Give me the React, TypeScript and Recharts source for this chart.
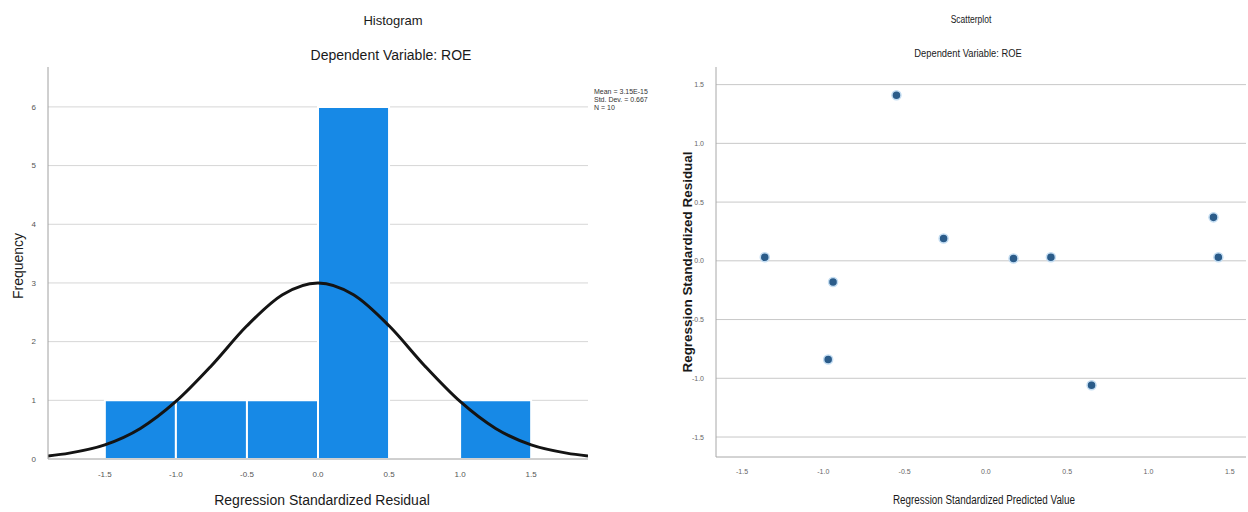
import React from 'react';
import {
  ComposedChart, ScatterChart, Scatter, Line, XAxis, YAxis, ZAxis, CartesianGrid, ReferenceArea,
} from 'recharts';

// histogram bins (residuals)
const BIN_START = [-1.5, -1.0, -0.5, 0.0, 0.5, 1.0];
const BIN_END = [-1.0, -0.5, 0.0, 0.5, 1.0, 1.5];
const BIN_COUNT = [1, 1, 1, 6, 0, 1];

// normal curve
const CURVE_X = [-1.9, -1.75, -1.5, -1.25, -1.0, -0.75, -0.5, -0.25, 0, 0.25, 0.5, 0.75, 1.0, 1.25, 1.5, 1.75, 1.9];
const CURVE_Y = [0.05, 0.1, 0.24, 0.52, 0.98, 1.59, 2.27, 2.8, 3.0, 2.8, 2.27, 1.59, 0.98, 0.52, 0.24, 0.1, 0.05];

const HIST_X_TICKS = [-1.5, -1.0, -0.5, 0.0, 0.5, 1.0, 1.5];
const HIST_Y_TICKS = [0, 1, 2, 3, 4, 5, 6];
const HIST_Y_DOMAIN = [0, 6.68];

// scatterplot: standardized predicted vs standardized residual
const PREDICTED = [-1.36, -0.94, -0.97, -0.55, -0.26, 0.17, 0.4, 0.65, 1.4, 1.43];
const RESIDUAL = [0.03, -0.18, -0.84, 1.41, 0.19, 0.02, 0.03, -1.06, 0.37, 0.03];

const SCAT_TICKS = [-1.5, -1.0, -0.5, 0.0, 0.5, 1.0, 1.5];
const SCAT_Y_DOMAIN = [-1.67, 1.65];

const curveData = CURVE_X.map((x, i) => ({ x, y: CURVE_Y[i] }));
const scatterData = PREDICTED.map((x, i) => ({ x, y: RESIDUAL[i] }));

const FONT = '"Liberation Sans", Arial, sans-serif';
const fmt = (v: number) => v.toFixed(1);

// grid only at the tick values (no border line on top of the plot)
const gridAt = (ticks: number[], domain: number[]) => (props: any) => {
  const s = props?.yAxis?.scale;
  if (typeof s === 'function') return ticks.map((t) => s(t));
  if (s && typeof s.map === 'function') return ticks.map((t) => s.map(t));
  const off = props?.offset;
  if (!off) return [];
  return ticks.map((t) => off.top + off.height * (1 - (t - domain[0]) / (domain[1] - domain[0])));
};

const Txt: React.FC<{ x: number; y: number; size: number; bold?: boolean; rotate?: number; sx?: number; children: React.ReactNode }> = ({ x, y, size, bold, rotate = 0, sx = 1, children }) => (
  <div
    style={{
      position: 'absolute', left: x, top: y, fontSize: size, fontWeight: bold ? 700 : 400,
      whiteSpace: 'nowrap', color: '#1a1a1a', transform: `translate(-50%, -50%) rotate(${rotate}deg) scaleX(${sx})`,
    }}
  >
    {children}
  </div>
);

const Histogram = () => (
  <ComposedChart width={600} height={512} data={curveData} margin={{ top: 67, right: 12, bottom: 0, left: 0 }}>
    <CartesianGrid
      horizontal
      vertical={false}
      stroke="#d6d6d6"
      horizontalCoordinatesGenerator={gridAt(HIST_Y_TICKS.slice(1), HIST_Y_DOMAIN)}
    />
    <XAxis
      type="number"
      dataKey="x"
      domain={[-1.9, 1.9]}
      ticks={HIST_X_TICKS}
      tickFormatter={fmt}
      height={53}
      stroke="#a0a0a0"
      tickLine={false}
      tickMargin={6}
      tick={{ fontSize: 8, fill: '#555' }}
      allowDataOverflow
    />
    <YAxis
      type="number"
      domain={HIST_Y_DOMAIN}
      ticks={HIST_Y_TICKS}
      width={48}
      stroke="#a0a0a0"
      tickLine={false}
      tickMargin={6}
      tick={{ fontSize: 8, fill: '#555' }}
      allowDataOverflow
    />
    {BIN_START.map((s, i) =>
      BIN_COUNT[i] > 0 ? (
        <ReferenceArea
          key={i}
          x1={s}
          x2={BIN_END[i]}
          y1={0}
          y2={BIN_COUNT[i]}
          fill="#1789e6"
          fillOpacity={1}
          stroke="#ffffff"
          strokeWidth={2}
        />
      ) : null
    )}
    <Line type="monotone" dataKey="y" stroke="#141414" strokeWidth={3} dot={false} isAnimationActive={false} />
  </ComposedChart>
);

const Residuals = () => (
  <ScatterChart width={628} height={512} margin={{ top: 67, right: 2, bottom: 0, left: 0 }}>
    <CartesianGrid
      horizontal
      vertical={false}
      stroke="#c8c8c8"
      horizontalCoordinatesGenerator={gridAt(SCAT_TICKS, SCAT_Y_DOMAIN)}
    />
    <XAxis
      type="number"
      dataKey="x"
      domain={[-1.66, 1.6]}
      ticks={SCAT_TICKS}
      tickFormatter={fmt}
      height={55}
      stroke="#a8a8a8"
      tickLine={false}
      tickMargin={6}
      tick={{ fontSize: 7, fill: '#666' }}
      allowDataOverflow
    />
    <YAxis
      type="number"
      dataKey="y"
      domain={SCAT_Y_DOMAIN}
      ticks={SCAT_TICKS}
      tickFormatter={fmt}
      width={96}
      stroke="#a8a8a8"
      tickLine={false}
      tickMargin={6}
      tick={{ fontSize: 7, fill: '#666' }}
      allowDataOverflow
    />
    <ZAxis range={[28, 28]} />
    <Scatter data={scatterData} fill="#2b5c8a" stroke="#c4ddf2" strokeWidth={1.5} isAnimationActive={false} />
  </ScatterChart>
);

export default function App() {
  return (
    <div style={{ position: 'absolute', left: 0, top: 0, width: 1248, height: 512, background: '#fff', fontFamily: FONT, overflow: 'hidden' }}>
      <div style={{ position: 'absolute', left: 0, top: 0 }}>
        <Histogram />
      </div>
      <div style={{ position: 'absolute', left: 620, top: 0 }}>
        <Residuals />
      </div>

      <Txt x={393} y={20} size={13}>Histogram</Txt>
      <Txt x={391} y={55} size={14}>Dependent Variable: ROE</Txt>
      <Txt x={18} y={266} size={14} rotate={-90}>Frequency</Txt>
      <Txt x={322} y={500} size={14}>Regression Standardized Residual</Txt>
      <div style={{ position: 'absolute', left: 594, top: 88, fontSize: 7, lineHeight: '8px', color: '#333', whiteSpace: 'nowrap' }}>
        <div>Mean = 3.15E-15</div>
        <div>Std. Dev. = 0.667</div>
        <div>N = 10</div>
      </div>

      <Txt x={971} y={19} size={10} sx={0.85}>Scatterplot</Txt>
      <Txt x={968} y={53} size={11} sx={0.85}>Dependent Variable: ROE</Txt>
      <Txt x={688} y={262} size={12} bold rotate={-90} sx={1.12}>Regression Standardized Residual</Txt>
      <Txt x={984} y={500} size={12} sx={0.82}>Regression Standardized Predicted Value</Txt>
    </div>
  );
}
